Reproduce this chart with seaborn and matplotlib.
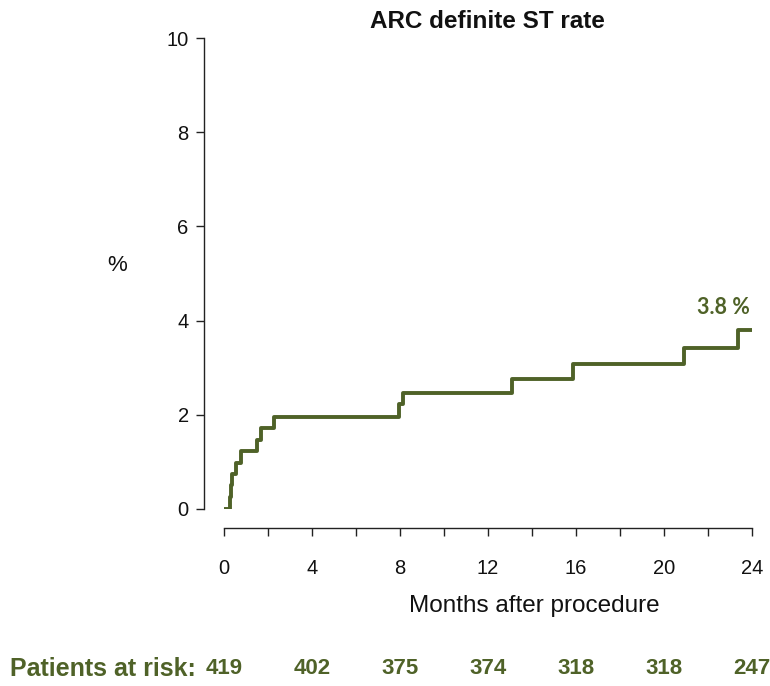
import numpy as np
import pandas as pd
import matplotlib
matplotlib.use("Agg")
import matplotlib.pyplot as plt
import matplotlib.transforms as mtransforms
import seaborn as sns

# Kaplan-Meier style cumulative ST rate (%)
months = [0, 0.25, 0.3, 0.35, 0.55, 0.75, 1.5, 1.7, 2.25, 7.95, 8.15, 13.1, 15.85, 20.9, 23.35, 24]
st_rate = [0, 0.25, 0.5, 0.75, 0.98, 1.23, 1.47, 1.72, 1.96, 2.23, 2.47, 2.76, 3.07, 3.42, 3.8, 3.8]

risk_months = [0, 4, 8, 12, 16, 20, 24]
at_risk = [419, 402, 375, 374, 318, 318, 247]

green = "#4f6228"

sns.set_style("ticks")
plt.rcParams["font.family"] = ["Liberation Sans", "DejaVu Sans"]
plt.rcParams["text.color"] = "#111111"

df = pd.DataFrame({"month": months, "rate": st_rate})

fig = plt.figure(figsize=(7.7, 6.86), dpi=100)
ax = fig.add_axes([224 / 770, 1 - 509 / 686, 528 / 770, 471 / 686])

sns.lineplot(data=df, x="month", y="rate", ax=ax, color=green, linewidth=2.8,
             drawstyle="steps-post", estimator=None, sort=False)

ax.set_xlim(0, 24)
ax.set_ylim(0, 10)
ax.set_xticks(np.arange(0, 25, 2))
ax.set_xticklabels([str(m) if m % 4 == 0 else "" for m in range(0, 25, 2)])
ax.set_yticks(np.arange(0, 11, 2))

for s in ["top", "right"]:
    ax.spines[s].set_visible(False)
# offsets in points (px * 0.72)
ax.spines["left"].set_position(("outward", 14.4))
ax.spines["bottom"].set_position(("outward", 13.7))
ax.spines["left"].set_bounds(0, 10)
ax.spines["bottom"].set_bounds(0, 24)
for s in ["left", "bottom"]:
    ax.spines[s].set_linewidth(1.0)
    ax.spines[s].set_color("#222222")
ax.tick_params(axis="both", length=6, width=1.0, color="#222222",
               labelsize=14.5, pad=5, labelcolor="#111111")
ax.tick_params(axis="x", pad=16)

ax.set_xlabel("Months after procedure", fontsize=17.5, va="center", color="#111111")
ax.xaxis.set_label_coords(0.587, -0.206)
ax.set_ylabel("%", fontsize=16, rotation=0, labelpad=0, va="center", color="#111111")
ax.yaxis.set_label_coords(-0.203, 0.518)

fig.text(487 / 770, 1 - 22 / 686, "ARC definite ST rate", ha="center", va="center",
         fontsize=17.5, fontweight="bold", color="#111111")

ax.text(23.9, 4.27, "3.8 %", ha="right", va="center", color=green,
        fontsize=15.5, fontweight="bold", family=["Lato", "DejaVu Sans"])

# patients at risk row
trans = mtransforms.blended_transform_factory(ax.transData, fig.transFigure)
row_y = 1 - 669 / 686
fig.text(10 / 770, row_y, "Patients at risk:", ha="left", va="center", color=green,
         fontsize=18, fontweight="bold")
for m, n in zip(risk_months, at_risk):
    ax.text(m, row_y, str(n), transform=trans, ha="center", va="center", color=green,
            fontsize=16, fontweight="bold")

fig.savefig("out.png", dpi=100)
